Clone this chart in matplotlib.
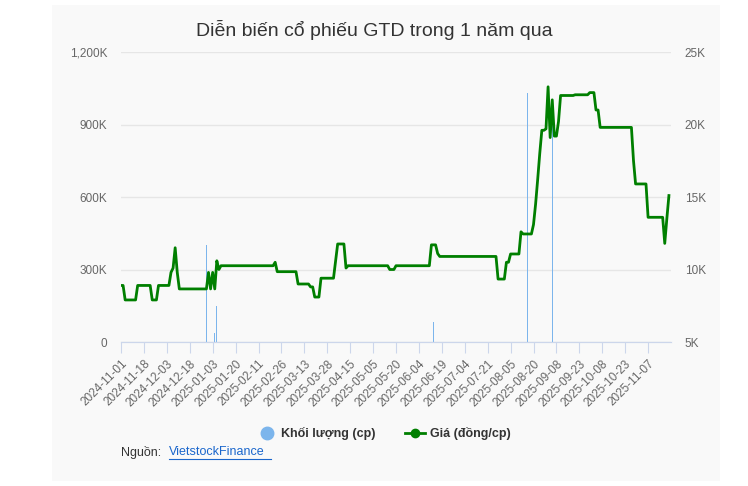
import matplotlib
matplotlib.use("Agg")
import matplotlib.pyplot as plt
from matplotlib.patches import Rectangle
from matplotlib.ticker import FuncFormatter, MultipleLocator

plt.rcParams['font.family'] = ['Liberation Sans', 'DejaVu Sans']

# price (K VND) per trading day, as (run length, value)
price_runs = [(2, 8.9), (6, 7.9), (7, 8.9), (3, 7.9), (6, 8.9), (1, 9.8), (1, 10.1), (1, 11.5), (1, 9.8),
              (14, 8.66), (1, 9.8), (1, 8.66), (1, 9.8), (1, 8.66), (1, 10.6), (1, 10.0),
              (26, 10.26), (1, 10.5), (10, 9.85), (6, 9.0), (2, 8.8), (3, 8.1), (7, 9.4), (1, 10.6),
              (4, 11.76), (1, 10.1), (20, 10.26), (3, 10.0), (17, 10.26), (3, 11.7), (1, 11.1),
              (28, 10.9), (4, 9.34), (2, 10.5), (5, 11.07), (1, 12.6), (5, 12.45), (1, 13.1), (1, 14.5),
              (1, 16.2), (1, 18.0), (2, 19.6), (1, 19.7), (1, 22.6), (1, 19.1), (1, 21.7), (2, 19.2),
              (1, 20.2), (7, 22.0), (7, 22.05), (3, 22.2), (2, 21.0), (16, 19.8), (1, 17.5), (6, 15.9),
              (8, 13.6), (1, 11.8), (1, 13.5), (1, 15.1)]
price = []
for n, v in price_runs:
    price += [v] * n

# volume (K shares): trading-day index -> value
vol_idx = [41, 45, 46, 150, 195, 207]
vol_val = [400, 37, 149, 83, 1030, 910]

tick_labels = ["2024-11-01", "2024-11-18", "2024-12-03", "2024-12-18", "2025-01-03", "2025-01-20",
               "2025-02-11", "2025-02-26", "2025-03-13", "2025-03-28", "2025-04-15", "2025-05-05",
               "2025-05-20", "2025-06-04", "2025-06-19", "2025-07-04", "2025-07-21", "2025-08-05",
               "2025-08-20", "2025-09-08", "2025-09-23", "2025-10-08", "2025-10-23", "2025-11-07"]

fig = plt.figure(figsize=(7.48, 4.86), dpi=100, facecolor="white")
fig.patches.append(Rectangle((52/748, 0.01), (720-52)/748, 0.98, transform=fig.transFigure,
                             facecolor="#f9f9f9", edgecolor="none", zorder=-10))
ax = fig.add_axes([121/748, 1-342/486, 550/748, 290/486])
ax.set_facecolor("#f9f9f9")
ax2 = ax.twinx()

ax.bar(vol_idx, vol_val, width=0.6, color="#7cb5ec", zorder=2)
ax2.plot(range(len(price)), price, color="#007f00", lw=2, zorder=3)

ax.set_xlim(0, 264)
ax.set_ylim(0, 1200)
ax2.set_ylim(5, 25)
ax.yaxis.set_major_locator(MultipleLocator(300))
ax2.yaxis.set_major_locator(MultipleLocator(5))
ax.yaxis.set_major_formatter(FuncFormatter(lambda v, p: "0" if v == 0 else f"{int(v):,}K"))
ax2.yaxis.set_major_formatter(FuncFormatter(lambda v, p: f"{int(v)}K"))
ax.grid(axis="y", color="#e6e6e6", lw=1)
ax.set_axisbelow(True)
ax.set_xticks(range(0, 11 * len(tick_labels), 11))
ax.set_xticklabels(tick_labels, rotation=45, ha="right", rotation_mode="anchor")
for a in (ax, ax2):
    for s in ("top", "left", "right"):
        a.spines[s].set_visible(False)
    a.spines["bottom"].set_color("#ccd6eb")
    a.tick_params(axis="y", length=0, labelsize=8.5, labelcolor="#666666")
ax.tick_params(axis="x", length=8, color="#ccd6eb", labelsize=8.5, labelcolor="#666666")
ax.tick_params(axis="y", pad=10)
ax2.tick_params(axis="y", pad=10)

fig.text(0.5, 1-30/486, "Diễn biến cổ phiếu GTD trong 1 năm qua", ha="center", va="center",
         fontsize=14, color="#333333")
# legend
fig.lines.append(plt.Line2D([267/748], [1-433/486], marker="o", ms=9, color="#7cb5ec", transform=fig.transFigure))
fig.text(281/748, 1-433/486, "Khối lượng (cp)", va="center", fontsize=9, fontweight="bold", color="#333333")
fig.lines.append(plt.Line2D([405/748, 425/748], [1-433/486]*2, color="#007f00", lw=2,
                            transform=fig.transFigure))
fig.lines.append(plt.Line2D([415/748], [1-433/486], marker="o", ms=6, color="#007f00", transform=fig.transFigure))
fig.text(430/748, 1-433/486, "Giá (đồng/cp)", va="center", fontsize=9, fontweight="bold", color="#333333")
fig.text(121/748, 1-452/486, "Nguồn: ", va="center", fontsize=9, color="#333333")
fig.text(169/748, 1-452/486, "VietstockFinance", va="center", fontsize=9, color="#1a66cc")
fig.lines.append(plt.Line2D([169/748, 271/748], [1-459/486]*2, color="#1a66cc", lw=0.8, transform=fig.transFigure))

fig.savefig("out.png", dpi=100, facecolor="white")
